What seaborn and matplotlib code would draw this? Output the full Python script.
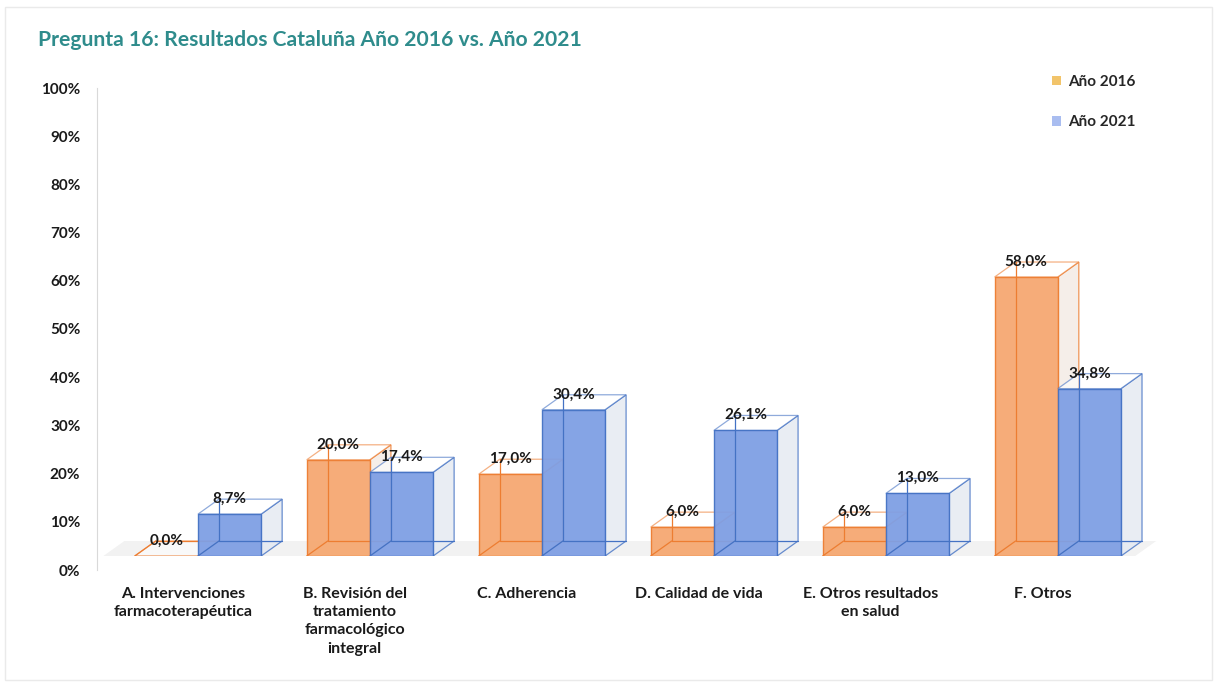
import matplotlib
matplotlib.use("Agg")
import matplotlib.pyplot as plt
import seaborn as sns
import pandas as pd
from matplotlib.patches import Polygon, Rectangle

# data
categories = ["A. Intervenciones\nfarmacoterapéutica",
              "B. Revisión del\ntratamiento\nfarmacológico\nintegral",
              "C. Adherencia",
              "D. Calidad de vida",
              "E. Otros resultados\nen salud",
              "F. Otros"]
years = ["Año 2016", "Año 2021"]
valores_2016 = [0.0, 20.0, 17.0, 6.0, 6.0, 58.0]
valores_2021 = [8.7, 17.4, 30.4, 26.1, 13.0, 34.8]
y_ticks = list(range(0, 101, 10))

df = pd.DataFrame({
    "categoria": categories * 2,
    "anio": [years[0]] * len(categories) + [years[1]] * len(categories),
    "valor": valores_2016 + valores_2021,
})

front = {"Año 2016": "#F6A872", "Año 2021": "#7F9FE4"}
edge = {"Año 2016": "#ED7D31", "Año 2021": "#4472C4"}
side = {"Año 2016": "#F3EAE4", "Año 2021": "#E4E9F1"}

sns.set_style("white")
plt.rcParams["font.family"] = ["Lato", "DejaVu Sans"]

fig = plt.figure(figsize=(12.17, 6.94), dpi=100)
W, H = 1217, 694

# axis that only carries the percentage labels (the 3D wall sits a bit lower)
ax_lab = fig.add_axes([97 / W, (H - 570) / H, 0.001, (570 - 88) / H])
ax_lab.set_ylim(0, 100)
ax_lab.set_yticks(y_ticks)
ax_lab.set_yticklabels([f"{t}%" for t in y_ticks], fontsize=11, fontweight="bold", color="#1a1a1a")
ax_lab.tick_params(axis="y", length=0, pad=12)
ax_lab.set_xticks([])
for s in ["top", "right", "bottom"]:
    ax_lab.spines[s].set_visible(False)
ax_lab.spines["left"].set_color("#D9D9D9")
ax_lab.patch.set_alpha(0)

# main axis with the bars (0 at the front edge of the floor)
ax = fig.add_axes([97 / W, (H - 556) / H, (1161 - 97) / W, 481 / H])
sns.barplot(data=df, x="categoria", y="valor", hue="anio", palette=front,
            width=0.735, ax=ax, legend=False, saturation=1)
ax.set_xlim(-0.587, 5.6)
ax.set_ylim(0, 100)
ax.patch.set_alpha(0)

# depth of the 3D effect, in pixels -> data units
fig.canvas.draw()
inv = ax.transData.inverted()
p0 = inv.transform(ax.transData.transform((0, 0)))
p1 = inv.transform(ax.transData.transform((0, 0)) + [21, 15])
dx, dy = p1[0] - p0[0], p1[1] - p0[1]

# floor shadow
ax.add_patch(Polygon([(-0.55, 0), (5.45, 0), (5.45 + dx, dy), (-0.55 + dx, dy)],
                     closed=True, facecolor="#F2F2F2", edgecolor="none", zorder=0.5, clip_on=False))

bars = [b for b in ax.patches if isinstance(b, Rectangle)]
n = len(categories)
for i, bar in enumerate(bars):
    yr = years[i // n]
    x0 = bar.get_x()
    w = bar.get_width()
    h = bar.get_height()
    x1 = x0 + w
    bar.set_facecolor(front[yr])
    bar.set_edgecolor(edge[yr])
    bar.set_linewidth(1.0)
    bar.set_alpha(0.95)
    bar.set_zorder(3 + (i // n) * 2)
    z = bar.get_zorder()
    # right side face
    ax.add_patch(Polygon([(x1, 0), (x1 + dx, dy), (x1 + dx, h + dy), (x1, h)], closed=True,
                         facecolor=side[yr], edgecolor=edge[yr], lw=0.9, alpha=0.8, zorder=z - 0.5))
    # top face
    ax.add_patch(Polygon([(x0, h), (x0 + dx, h + dy), (x1 + dx, h + dy), (x1, h)], closed=True,
                         facecolor="#FFFFFF", edgecolor=edge[yr], lw=0.9, alpha=0.6, zorder=z - 0.5))
    # hidden back edges
    ax.plot([x0 + dx, x0 + dx, x1 + dx], [h + dy, dy, dy], color=edge[yr], lw=0.9, zorder=z + 0.2)
    ax.plot([x0, x0 + dx], [0, dy], color=edge[yr], lw=0.9, zorder=z + 0.2)
    # data label
    ax.annotate(f"{h:.1f}".replace(".", ",") + "%", (x0 + w / 2, h), xytext=(0, 11),
                textcoords="offset points", ha="center", va="center",
                fontsize=11, fontweight="bold", color="#1a1a1a", zorder=10)

ax.set_xlabel("")
ax.set_ylabel("")
ax.set_yticks([])
ax.set_xticks([])
sns.despine(ax=ax, left=True, bottom=True)

# category labels, shifted a little left as in the 3D projection
for i, cat in enumerate(categories):
    ax.annotate(cat, (i, 0), xycoords=("data", "axes fraction"), xytext=(-11, -22),
                textcoords="offset points", ha="center", va="top", linespacing=1.4,
                fontsize=11.5, fontweight="bold", color="#1a1a1a")

# legend
handles = [Rectangle((0, 0), 1, 1, facecolor="#F2C46A", edgecolor="none"),
           Rectangle((0, 0), 1, 1, facecolor="#A9BDF0", edgecolor="none")]
fig.legend(handles, years, loc="upper left", bbox_to_anchor=(1038 / W, 1 - 61 / H),
           frameon=False, handlelength=0.6, handleheight=0.6, handletextpad=0.5,
           labelspacing=1.75, prop={"family": ["Lato", "DejaVu Sans"], "weight": "bold", "size": 11})

fig.text(38 / W, 1 - 40 / H, "Pregunta 16: Resultados Cataluña Año 2016 vs. Año 2021",
         fontsize=15.2, fontweight="bold", color="#2F8C8C", va="center", ha="left")

fig.patches.append(Rectangle((5 / W, 0.02), 1 - 10 / W, 1 - 0.03, transform=fig.transFigure,
                             fill=False, edgecolor="#EAEAEA", lw=1))

fig.savefig("out.png", dpi=100)
